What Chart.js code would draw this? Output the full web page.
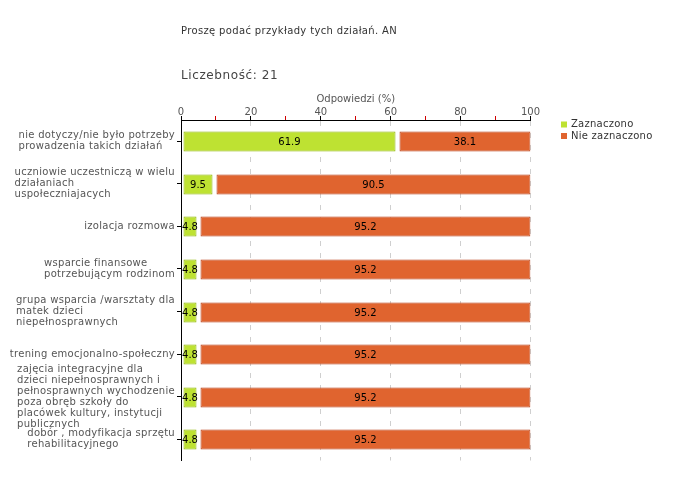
<!DOCTYPE html>
<html>
<head>
<meta charset="utf-8">
<script src="https://cdn.jsdelivr.net/npm/chart.js@4/dist/chart.umd.min.js"></script>
<style>
  html, body { margin: 0; padding: 0; background: #fff; }
  #wrap { position: relative; width: 680px; height: 480px; }
</style>
</head>
<body>
<div id="wrap"><canvas id="chart" width="680" height="480"></canvas></div>
<script>
// ---- data ----
const categories = [
  ["nie dotyczy/nie było potrzeby", "prowadzenia takich działań"],
  ["uczniowie uczestniczą w wielu", "działaniach", "uspołeczniajacych"],
  ["izolacja rozmowa"],
  ["wsparcie finansowe", "potrzebującym rodzinom"],
  ["grupa wsparcia /warsztaty dla", "matek dzieci", "niepełnosprawnych"],
  ["trening emocjonalno-społeczny"],
  ["zajęcia integracyjne dla", "dzieci niepełnosprawnych i", "pełnosprawnych wychodzenie",
   "poza obręb szkoły do", "placówek kultury, instytucji", "publicznych"],
  ["dobór , modyfikacja sprzętu", "rehabilitacyjnego"]
];
const zaznaczono = [61.9, 9.5, 4.8, 4.8, 4.8, 4.8, 4.8, 4.8];
const nieZaznaczono = [38.1, 90.5, 95.2, 95.2, 95.2, 95.2, 95.2, 95.2];
const seriesNames = ["Zaznaczono", "Nie zaznaczono"];
const xTickLabels = [0, 20, 40, 60, 80, 100];

const chartTitle = "Proszę podać przykłady tych działań. AN";
const countLabel = "Liczebność: 21";
const axisTitle = "Odpowiedzi (%)";

const FONT = "'DejaVu Sans', Verdana, sans-serif";
const GREEN = "#bee232", GREEN_EDGE = "#8cb400";
const ORANGE = "#e0642f", ORANGE_EDGE = "#b63a10";

// small gaps between stacked segments, like the original renderer
const segmentGaps = {
  id: "segmentGaps",
  afterDatasetUpdate(chart, args) {
    args.meta.data.forEach((el) => {
      el.y = Math.round(el.y) + 0.5;
      if (args.index === 0) { el.base = Math.round(el.base) + 1.5; el.x = Math.round(el.x) - 1.5; }
      else { el.base = Math.round(el.base) + 2.5; el.x = Math.round(el.x) - 0.5; }
    });
  }
};

// category labels: lines left aligned inside a block that is right aligned to the axis
const categoryLabels = {
  id: "categoryLabels",
  afterDraw(chart) {
    const { ctx } = chart;
    const yScale = chart.scales.y;
    ctx.save();
    ctx.font = "10px " + FONT;
    ctx.letterSpacing = "0.3px";
    ctx.fillStyle = "#555";
    ctx.textBaseline = "middle";
    ctx.textAlign = "left";
    const lh = 11;
    categories.forEach((lines, i) => {
      const cy = yScale.getPixelForValue(i);
      const w = Math.max(...lines.map((l) => ctx.measureText(l).width));
      const left = 175 - w;
      const top = cy - ((lines.length - 1) * lh) / 2;
      lines.forEach((l, j) => ctx.fillText(l, left, top + j * lh));
    });
    ctx.restore();
  }
};

// values written in the middle of each segment
const valueLabels = {
  id: "valueLabels",
  afterDatasetsDraw(chart) {
    const { ctx } = chart;
    ctx.save();
    ctx.font = "10px " + FONT;
    ctx.fillStyle = "#000";
    ctx.textAlign = "center";
    ctx.textBaseline = "middle";
    chart.data.datasets.forEach((ds, di) => {
      chart.getDatasetMeta(di).data.forEach((el, i) => {
        ctx.fillText(ds.data[i].toFixed(1), (el.x + el.base) / 2, el.y + 0.5);
      });
    });
    ctx.restore();
  }
};

// headings and legend
const headings = {
  id: "headings",
  afterDraw(chart) {
    const { ctx } = chart;
    const left = chart.chartArea.left;
    ctx.save();
    ctx.textBaseline = "middle";
    ctx.textAlign = "left";
    ctx.fillStyle = "#333";
    ctx.font = "10px " + FONT;
    ctx.letterSpacing = "0.35px";
    ctx.fillText(chartTitle, left, 31);
    ctx.fillStyle = "#444";
    ctx.font = "12px " + FONT;
    ctx.letterSpacing = "0.6px";
    ctx.fillText(countLabel, left, 76);

    ctx.font = "10px " + FONT;
    ctx.letterSpacing = "0.25px";
    chart.data.datasets.forEach((ds, i) => {
      const y = 124.5 + i * 11.5;
      ctx.fillStyle = ds.backgroundColor;
      ctx.fillRect(561, y - 3, 6, 6);
      ctx.fillStyle = "#333";
      ctx.fillText(ds.label, 571, y);
    });
    ctx.restore();
  }
};

new Chart(document.getElementById("chart"), {
  type: "bar",
  data: {
    labels: categories.map((c) => c.join(" ")),
    datasets: [
      {
        label: seriesNames[0],
        data: zaznaczono,
        backgroundColor: GREEN,
        borderColor: GREEN_EDGE,
        borderWidth: 1,
        borderSkipped: false
      },
      {
        label: seriesNames[1],
        data: nieZaznaczono,
        backgroundColor: ORANGE,
        borderColor: ORANGE_EDGE,
        borderWidth: 1,
        borderSkipped: false
      }
    ]
  },
  options: {
    indexAxis: "y",
    responsive: false,
    animation: false,
    devicePixelRatio: 1,
    barPercentage: 0.47,
    categoryPercentage: 1,
    layout: { padding: { top: 85, right: 149.5, bottom: 19.5, left: 0 } },
    plugins: {
      legend: { display: false },
      tooltip: { enabled: false }
    },
    scales: {
      x: {
        position: "top",
        stacked: true,
        min: 0,
        max: 100,
        afterFit: (s) => { s.height = 35; },
        ticks: {
          stepSize: 10,
          padding: -2,
          color: "#555",
          font: { family: FONT, size: 10 },
          callback: (v) => (xTickLabels.includes(v) ? v : "")
        },
        grid: {
          drawTicks: true,
          tickLength: 4,
          color: (c) => (c.tick && c.tick.value % 20 === 0 && c.tick.value > 0 ? "#cfcfcf" : "transparent"),
          tickColor: (c) => (c.tick && c.tick.value % 20 === 0 ? "#000" : "#d00000"),
          lineWidth: 1
        },
        border: { display: true, color: "#000", width: 1, dash: [5, 7] },
        title: {
          display: true,
          text: axisTitle,
          color: "#555",
          font: { family: FONT, size: 10 },
          padding: { top: 8, bottom: 0 }
        }
      },
      y: {
        stacked: true,
        afterFit: (s) => { s.width = 181; },
        ticks: { display: false },
        grid: {
          offset: false,
          drawOnChartArea: false,
          tickLength: 4,
          tickColor: "#000"
        },
        border: { display: true, color: "#000", width: 1 }
      }
    }
  },
  plugins: [segmentGaps, categoryLabels, valueLabels, headings]
});
</script>
</body>
</html>
